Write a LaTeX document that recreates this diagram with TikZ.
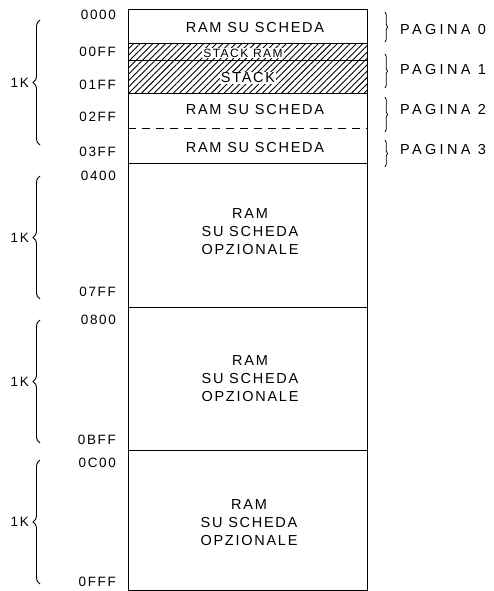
\documentclass[tikz,border=0pt]{standalone}
\usepackage{fontspec}
\setmainfont{Liberation Sans}[LetterSpace=12]
\newfontfamily\pagefont{Liberation Sans}[LetterSpace=23]
\usetikzlibrary{patterns.meta,decorations.pathreplacing}
\begin{document}
\begin{tikzpicture}[x=1pt,y=-1pt,
  boxtxt/.style={font=\fontsize{14.5}{18}\selectfont, align=center, inner sep=0pt},
  addr/.style={font=\fontsize{13.5}{15}\selectfont, anchor=east, inner sep=0pt},
  pagelbl/.style={font=\pagefont\fontsize{14.5}{16}\selectfont, anchor=west, inner sep=0pt},
  kb/.style={font=\fontsize{13.5}{15}\selectfont, anchor=east, inner sep=0pt},
  bigbrace/.style={decorate, decoration={brace, amplitude=7pt}, line width=0.9pt},
  smallbrace/.style={decorate, decoration={brace, amplitude=2.5pt}, line width=0.7pt},
  region/.style={draw, line width=1pt},
  hatch/.style={pattern={Lines[angle=45,distance=4.5pt,line width=0.9pt]}},
  onhatch/.style={fill=white, inner sep=1pt}
]
\useasboundingbox (0,0) rectangle (494,591);

% memory regions
\path[hatch] (128,44) rectangle (367,94);
\draw[region] (128,10) rectangle (367,44);
\draw[region] (128,44) rectangle (367,61);
\draw[region] (128,61) rectangle (367,94);
\draw[region] (128,94) rectangle (367,163);
\draw[line width=1pt, dash pattern=on 8pt off 6pt] (128,128) -- (367,128);
\draw[region] (128,163) rectangle (367,307);
\draw[region] (128,307) rectangle (367,450);
\draw[region] (128,450) rectangle (367,590);

% texts inside
\node[boxtxt] (r0) at (255,28) {RAM SU SCHEDA};
\node[boxtxt, onhatch, font=\fontsize{12}{13}\selectfont] (sr) at (243,53) {STACK RAM};
\node[boxtxt, onhatch] (st) at (248,78) {STACK};
\node[boxtxt] (r2) at (255,110) {RAM SU SCHEDA};
\node[boxtxt] (r3) at (255,148) {RAM SU SCHEDA};
\node[boxtxt] (o1) at (250,232) {RAM\\SU SCHEDA\\OPZIONALE};
\node[boxtxt] (o2) at (250,379) {RAM\\SU SCHEDA\\OPZIONALE};
\node[boxtxt] (o3) at (249,523) {RAM\\SU SCHEDA\\OPZIONALE};

% addresses
\node[addr] (a0000) at (116,15) {0000};
\node[addr] (a00FF) at (116,52) {00FF};
\node[addr] (a01FF) at (116,85) {01FF};
\node[addr] (a02FF) at (116,117) {02FF};
\node[addr] (a03FF) at (116,152) {03FF};
\node[addr] (a0400) at (116,176) {0400};
\node[addr] (a07FF) at (116,292) {07FF};
\node[addr] (a0800) at (116,320) {0800};
\node[addr] (a0BFF) at (116,440) {0BFF};
\node[addr] (a0C00) at (116,463) {0C00};
\node[addr] (a0FFF) at (116,582) {0FFF};

% 1K braces
\coordinate (b1s) at (40,145); \coordinate (b1e) at (40,20);
\coordinate (b2s) at (40,299); \coordinate (b2e) at (40,176);
\coordinate (b3s) at (40,443); \coordinate (b3e) at (40,320);
\coordinate (b4s) at (40,584); \coordinate (b4e) at (40,460);
\draw[bigbrace] (b1s) -- (b1e);
\draw[bigbrace] (b2s) -- (b2e);
\draw[bigbrace] (b3s) -- (b3e);
\draw[bigbrace] (b4s) -- (b4e);
\node[kb] (k1) at (29,83) {1K};
\node[kb] (k2) at (29,238) {1K};
\node[kb] (k3) at (29,382) {1K};
\node[kb] (k4) at (29,522) {1K};

% page braces
\coordinate (p0s) at (385,12);  \coordinate (p0e) at (385,42);
\coordinate (p1s) at (385,54);  \coordinate (p1e) at (385,88);
\coordinate (p2s) at (385,97);  \coordinate (p2e) at (385,132);
\coordinate (p3s) at (385,140); \coordinate (p3e) at (385,167);
\draw[smallbrace] (p0s) -- (p0e);
\draw[smallbrace] (p1s) -- (p1e);
\draw[smallbrace] (p2s) -- (p2e);
\draw[smallbrace] (p3s) -- (p3e);
\node[pagelbl] (pg0) at (400,30) {PAGINA 0};
\node[pagelbl] (pg1) at (400,70) {PAGINA 1};
\node[pagelbl] (pg2) at (400,110) {PAGINA 2};
\node[pagelbl] (pg3) at (400,150) {PAGINA 3};
\end{tikzpicture}
\end{document}
